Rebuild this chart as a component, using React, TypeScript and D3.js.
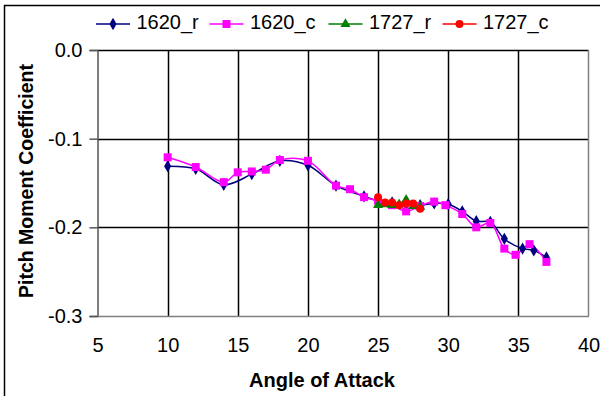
import { useEffect, useRef } from 'react';
import * as d3 from 'd3';

// chart values
const xTicks = [5, 10, 15, 20, 25, 30, 35, 40];
const yTicks = [0, -0.1, -0.2, -0.3];

const r1620X = [10, 12, 14, 16, 18, 20, 22, 24, 25, 26, 27, 28, 29, 30, 31, 32, 33, 34, 35.3, 36.1, 37];
const r1620Y = [-0.131, -0.134, -0.152, -0.140, -0.125, -0.130, -0.153, -0.165, -0.170, -0.172, -0.174, -0.175, -0.173, -0.174, -0.182, -0.193, -0.194, -0.213, -0.224, -0.226, -0.234];

const c1620X = [10, 12, 14, 15, 16, 17, 18, 20, 22, 23, 24, 25, 26, 27, 28, 29, 29.8, 31, 32, 33, 34, 34.8, 35.8, 37];
const c1620Y = [-0.121, -0.132, -0.149, -0.138, -0.137, -0.135, -0.124, -0.125, -0.153, -0.157, -0.166, -0.170, -0.175, -0.182, -0.176, -0.171, -0.175, -0.185, -0.200, -0.195, -0.224, -0.231, -0.219, -0.239];

const r1727X = [25, 25.5, 26, 26.5, 27, 27.5, 28];
const r1727Y = [-0.175, -0.174, -0.175, -0.174, -0.169, -0.176, -0.177];

const c1727X = [25, 25.5, 26, 26.5, 27, 27.5, 28];
const c1727Y = [-0.166, -0.172, -0.172, -0.175, -0.173, -0.173, -0.179];

const seriesNames = ['1620_r', '1620_c', '1727_r', '1727_c'];
const seriesColors = ['#000080', '#FF00FF', '#008000', '#FF0000'];
const seriesSymbols = [d3.symbolDiamond, d3.symbolSquare, d3.symbolTriangle, d3.symbolCircle];
const symbolSizes = [44, 64, 44, 50];

const App = () => {
  const svgRef = useRef<SVGSVGElement>(null);

  useEffect(() => {
    const width = 600;
    const height = 396;
    const font = '"Liberation Sans", Arial, sans-serif';

    const svg = d3.select(svgRef.current);
    svg.selectAll('*').remove();
    svg.attr('width', width).attr('height', height).style('font-family', font);

    svg.append('rect')
      .attr('width', width).attr('height', height).attr('fill', '#fff');

    // outer frame
    svg.append('rect')
      .attr('x', 4.5).attr('y', 5.5)
      .attr('width', 620).attr('height', 420)
      .attr('fill', 'none').attr('stroke', '#000').attr('stroke-width', 1.5);

    const margin = { top: 50, left: 97.5, right: 588.5, bottom: 316 };

    const x = d3.scaleLinear().domain([5, 40]).range([margin.left, margin.right]);
    const y = d3.scaleLinear().domain([-0.3, 0]).range([margin.bottom, margin.top]);

    // grid lines
    const grid = svg.append('g');
    grid.selectAll('.vgrid')
      .data(xTicks.filter(t => t > 5 && t < 40))
      .enter().append('line')
      .attr('x1', d => Math.round(x(d)) + 0.5).attr('x2', d => Math.round(x(d)) + 0.5)
      .attr('y1', margin.top).attr('y2', margin.bottom)
      .attr('stroke', '#000').attr('stroke-width', 1.5);
    grid.selectAll('.hgrid')
      .data(yTicks.filter(t => t > -0.3))
      .enter().append('line')
      .attr('x1', margin.left).attr('x2', margin.right)
      .attr('y1', d => Math.round(y(d)) + 0.5).attr('y2', d => Math.round(y(d)) + 0.5)
      .attr('stroke', '#000').attr('stroke-width', 1.5);

    // plot border (right side grey)
    svg.append('line')
      .attr('x1', margin.right).attr('x2', margin.right)
      .attr('y1', margin.top).attr('y2', margin.bottom)
      .attr('stroke', '#808080').attr('stroke-width', 1.5);

    // y axis
    const yAxis = svg.append('g')
      .attr('transform', `translate(${margin.left},0)`)
      .call(d3.axisLeft(y).tickValues(yTicks).tickSize(8).tickFormat(d3.format('.1f')));
    yAxis.select('.domain').attr('stroke', '#555').attr('stroke-width', 1.5);
    yAxis.selectAll('.tick line').attr('stroke', '#555').attr('stroke-width', 1.5);
    yAxis.selectAll('.tick text')
      .attr('font-size', 20).attr('font-family', font).attr('fill', '#000')
      .attr('x', -15)
      .text(d => d3.format('.1f')(d as number).replace('−', '-'));

    // x axis
    const xAxis = svg.append('g')
      .attr('transform', `translate(0,${margin.bottom})`)
      .call(d3.axisBottom(x).tickValues(xTicks).tickSize(0));
    xAxis.select('.domain').attr('stroke', '#808080').attr('stroke-width', 1.5);
    xAxis.selectAll('.tick text')
      .attr('font-size', 20).attr('font-family', font).attr('fill', '#000')
      .attr('y', 22);

    // series
    const allX = [r1620X, c1620X, r1727X, c1727X];
    const allY = [r1620Y, c1620Y, r1727Y, c1727Y];

    allX.forEach((xs, i) => {
      const pts: [number, number][] = xs.map((v, j) => [v, allY[i][j]]);
      const line = d3.line<[number, number]>()
        .x(d => x(d[0])).y(d => y(d[1]))
        .curve(d3.curveCatmullRom.alpha(0.5));
      svg.append('path')
        .datum(pts)
        .attr('d', line)
        .attr('fill', 'none')
        .attr('stroke', seriesColors[i])
        .attr('stroke-width', 1.5);
    });

    allX.forEach((xs, i) => {
      const sym = d3.symbol().type(seriesSymbols[i]).size(symbolSizes[i]);
      svg.append('g').selectAll('path')
        .data(xs.map((v, j) => [v, allY[i][j]]))
        .enter().append('path')
        .attr('d', sym)
        .attr('transform', d => `translate(${x(d[0])},${y(d[1])})`)
        .attr('fill', seriesColors[i]);
    });

    // legend
    const legendX = [96, 209.5, 328.5, 442.5];
    const legend = svg.append('g');
    seriesNames.forEach((name, i) => {
      const lx = legendX[i];
      legend.append('line')
        .attr('x1', lx).attr('x2', lx + 34)
        .attr('y1', 24).attr('y2', 24)
        .attr('stroke', seriesColors[i]).attr('stroke-width', 1.5);
      legend.append('path')
        .attr('d', d3.symbol().type(seriesSymbols[i]).size(symbolSizes[i])())
        .attr('transform', `translate(${lx + 17},24)`)
        .attr('fill', seriesColors[i]);
      legend.append('text')
        .attr('x', lx + 40.5).attr('y', 28.5)
        .attr('font-size', 20)
        .attr('fill', '#000')
        .text(name);
    });

    // axis titles
    svg.append('text')
      .attr('x', 322)
      .attr('y', 387)
      .attr('text-anchor', 'middle')
      .attr('font-size', 20).attr('font-weight', 'bold')
      .text('Angle of Attack');

    svg.append('text')
      .attr('transform', 'translate(33,181) rotate(-90)')
      .attr('text-anchor', 'middle')
      .attr('font-size', 19.5).attr('font-weight', 'bold')
      .text('Pitch Moment Coefficient');
  }, []);

  return (
    <div style={{ position: 'absolute', left: 0, top: 0 }}>
      <svg ref={svgRef}></svg>
    </div>
  );
};

export default App;
